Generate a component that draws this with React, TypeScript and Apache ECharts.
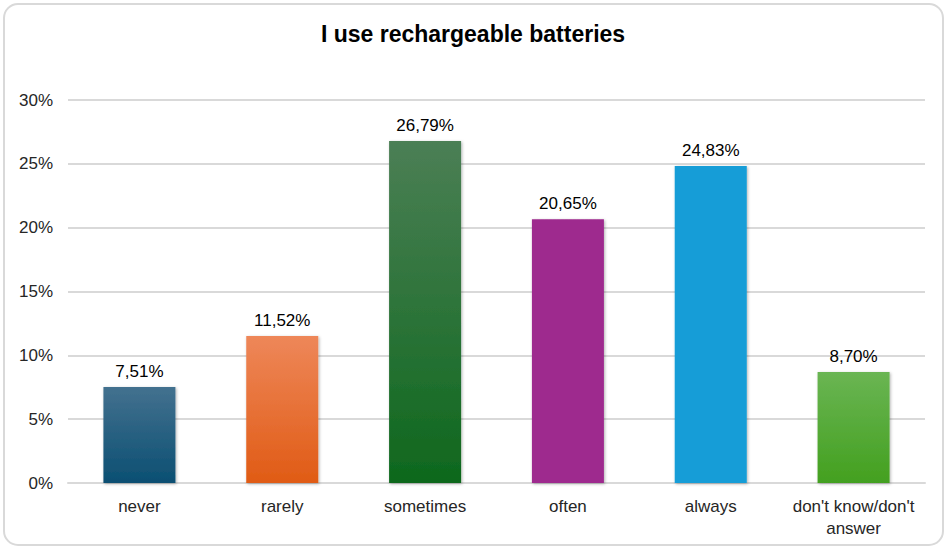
import React, { useEffect, useRef } from "react";
import * as echarts from "echarts";

const categories = ["never", "rarely", "sometimes", "often", "always", "don't know/don't\nanswer"];
const values = [7.51, 11.52, 26.79, 20.65, 24.83, 8.7];
const topColors = ["#43718f", "#ee8759", "#4b7f55", "#9e2a8e", "#139dd7", "#6ab553"];
const bottomColors = ["#0b4f72", "#e05b15", "#0e681d", "#9e2a8e", "#139dd7", "#43a01f"];
const yTicks = { min: 0, max: 30, interval: 5 };

export default function App() {
  const ref = useRef<HTMLDivElement>(null);
  useEffect(() => {
    if (!ref.current) return;
    const chart = echarts.init(ref.current, undefined, { renderer: "svg" });
    const font = "Liberation Sans, Arial, sans-serif";
    chart.setOption({
      animation: false,
      backgroundColor: "#ffffff",
      title: {
        text: "I use rechargeable batteries",
        left: "center",
        top: 17,
        textStyle: { fontFamily: font, fontSize: 23, fontWeight: "bold", color: "#000000" },
      },
      graphic: [
        {
          type: "rect",
          shape: { x: 4, y: 4, width: 939, height: 541, r: 14 },
          style: { fill: "none", stroke: "#d9d9d9", lineWidth: 2 },
          silent: true,
          z: -1,
        },
      ],
      grid: { left: 68, right: 21, top: 100, bottom: 66, containLabel: false },
      xAxis: {
        type: "category",
        data: categories,
        axisLine: { show: true, lineStyle: { color: "#d9d9d9", width: 2 } },
        axisTick: { show: false },
        axisLabel: {
          fontFamily: font,
          fontSize: 17,
          color: "#262626",
          margin: 12,
          lineHeight: 22,
          interval: 0,
        },
      },
      yAxis: {
        type: "value",
        min: yTicks.min,
        max: yTicks.max,
        interval: yTicks.interval,
        axisLine: { show: false },
        axisTick: { show: false },
        splitLine: { lineStyle: { color: "#d9d9d9", width: 2 } },
        axisLabel: {
          fontFamily: font,
          fontSize: 17,
          color: "#262626",
          margin: 15,
          formatter: (v: number) => v + "%",
        },
      },
      series: [
        {
          type: "bar",
          barWidth: 72,
          data: values.map((v, i) => ({
            value: v,
            itemStyle: {
              color: new echarts.graphic.LinearGradient(0, 0, 0, 1, [
                { offset: 0, color: topColors[i] },
                { offset: 1, color: bottomColors[i] },
              ]),
              shadowBlur: 3,
              shadowColor: "rgba(0,0,0,0.3)",
              shadowOffsetX: 1,
              shadowOffsetY: 1,
            },
          })),
          label: {
            show: true,
            position: "top",
            distance: 7,
            fontFamily: font,
            fontSize: 17,
            color: "#000000",
            formatter: (p: any) => p.value.toFixed(2).replace(".", ",") + "%",
          },
        },
      ],
    });
    return () => chart.dispose();
  }, []);
  return (
    <div
      ref={ref}
      style={{ position: "absolute", left: 0, top: 0, width: 946, height: 549 }}
    />
  );
}
